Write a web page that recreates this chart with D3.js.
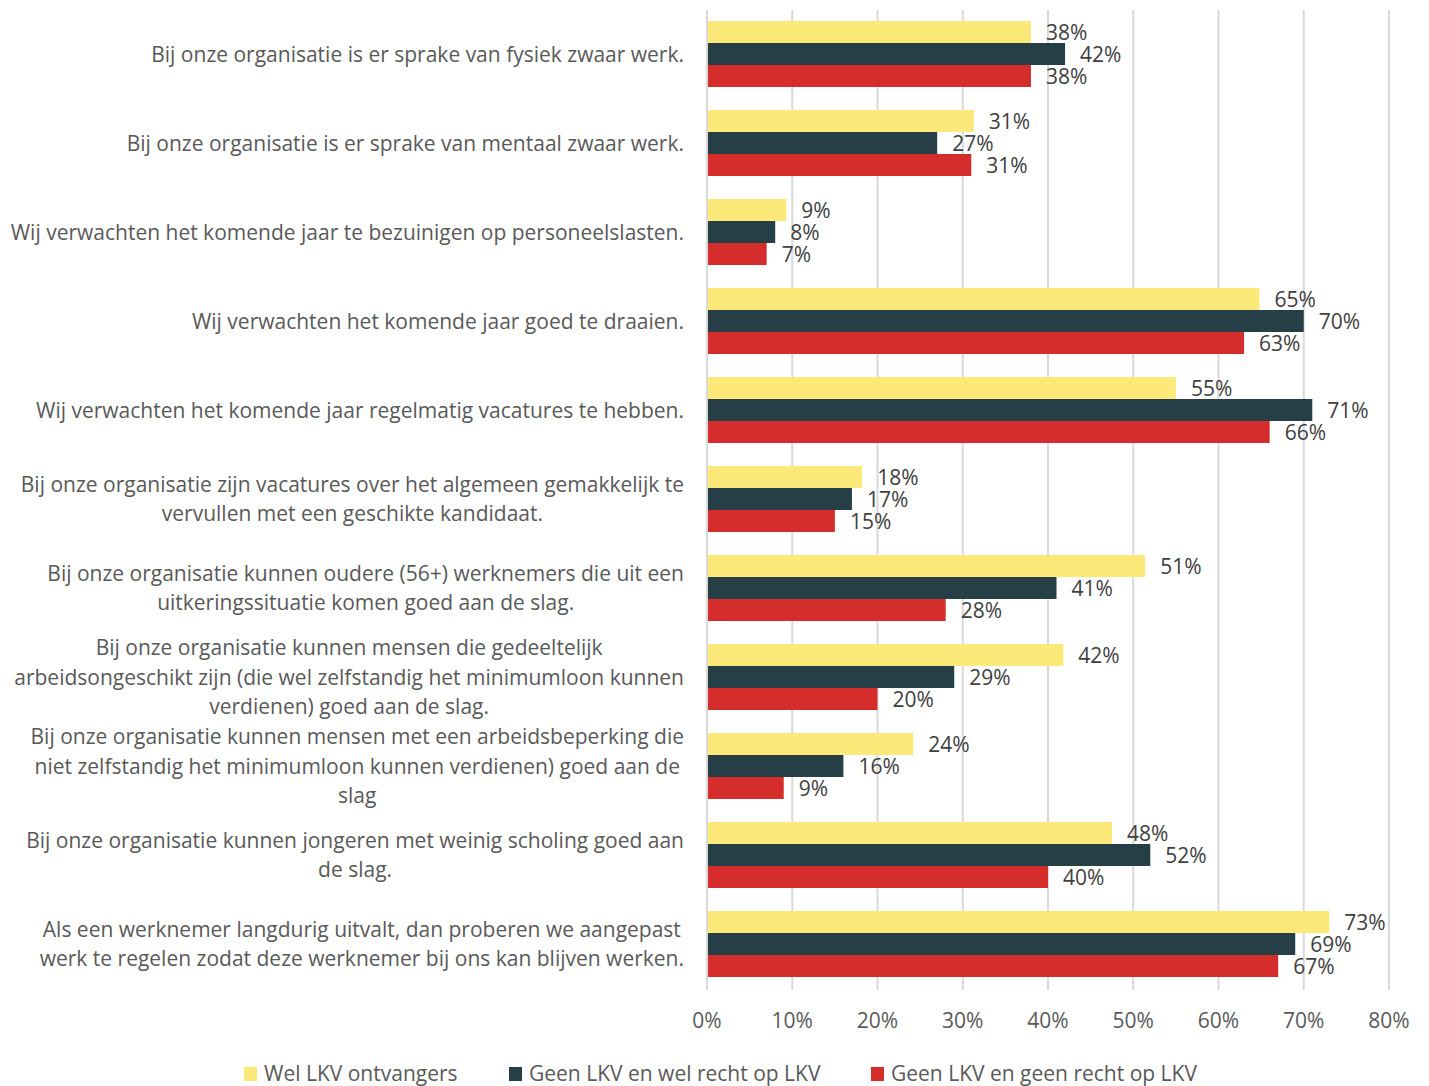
<!DOCTYPE html>
<html>
<head>
  <meta charset="utf-8">
  <title>LKV chart</title>
  <script src="https://d3js.org/d3.v7.min.js"></script>
  <style>
    body { margin: 0; background: #fff; }
    text { font-family: "Open Sans", sans-serif; }
  </style>
</head>
<body>
  <svg width="1429" height="1086"></svg>
  <script>
  // categories (line breaks as in the original)
  var categories = [
    "Bij onze organisatie is er sprake van fysiek zwaar werk.",
    "Bij onze organisatie is er sprake van mentaal zwaar werk.",
    "Wij verwachten het komende jaar te bezuinigen op personeelslasten.",
    "Wij verwachten het komende jaar goed te draaien.",
    "Wij verwachten het komende jaar regelmatig vacatures te hebben.",
    "Bij onze organisatie zijn vacatures over het algemeen gemakkelijk te\nvervullen met een geschikte kandidaat.",
    "Bij onze organisatie kunnen oudere (56+) werknemers die uit een\nuitkeringssituatie komen goed aan de slag.",
    "Bij onze organisatie kunnen mensen die gedeeltelijk\narbeidsongeschikt zijn (die wel zelfstandig het minimumloon kunnen\nverdienen) goed aan de slag.",
    "Bij onze organisatie kunnen mensen met een arbeidsbeperking die\nniet zelfstandig het minimumloon kunnen verdienen) goed aan de\nslag",
    "Bij onze organisatie kunnen jongeren met weinig scholing goed aan\nde slag.",
    "Als een werknemer langdurig uitvalt, dan proberen we aangepast\nwerk te regelen zodat deze werknemer bij ons kan blijven werken."
  ];

  var seriesNames = ["Wel LKV ontvangers", "Geen LKV en wel recht op LKV", "Geen LKV en geen recht op LKV"];
  // bar lengths (labels are rounded)
  var welLkv     = [38, 31.3, 9.3, 64.8, 55, 18.2, 51.4, 41.8, 24.2, 47.5, 73];
  var geenWel    = [42, 27, 8, 70, 71, 17, 41, 29, 16, 52, 69];
  var geenGeen   = [38, 31, 7, 63, 66, 15, 28, 20, 9, 40, 67];
  var colors = ["#fde97a", "#263f47", "#d42d2b"];
  var ticks = [0, 10, 20, 30, 40, 50, 60, 70, 80];

  var seriesValues = [welLkv, geenWel, geenGeen];

  var svg = d3.select("svg");
  var plotLeft = 707, plotRight = 1389, plotTop = 9.5, plotBottom = 988.5;
  var fs = 21;

  var x = d3.scaleLinear().domain([0, 80]).range([plotLeft, plotRight]);
  var y = d3.scaleBand().domain(d3.range(categories.length)).range([plotTop, plotBottom]).paddingInner(23 / 89).paddingOuter(11.5 / 89);
  var ySub = d3.scaleBand().domain(d3.range(seriesNames.length)).range([0, y.bandwidth()]);

  // gridlines
  svg.append("g").selectAll("line").data(ticks).enter().append("line")
    .attr("x1", function(d){ return x(d); })
    .attr("x2", function(d){ return x(d); })
    .attr("y1", 10).attr("y2", 990)
    .attr("stroke", "#d9d9d9").attr("stroke-width", 2);

  // x axis labels
  svg.append("g").selectAll("text").data(ticks).enter().append("text")
    .attr("x", function(d){ return x(d); })
    .attr("y", 1028)
    .attr("text-anchor", "middle")
    .attr("font-size", fs)
    .attr("fill", "#595959")
    .text(function(d){ return d + "%"; });

  // bars + value labels
  var groups = svg.append("g").selectAll("g").data(categories).enter().append("g")
    .attr("transform", function(d, i){ return "translate(0," + y(i) + ")"; });

  groups.each(function(c, i) {
    var g = d3.select(this);
    var rows = seriesValues.map(function(s, k){ return {k: k, v: s[i]}; });
    g.selectAll("rect").data(rows).enter().append("rect")
      .attr("x", x(0) + 1)
      .attr("y", function(d){ return ySub(d.k); })
      .attr("width", function(d){ return x(d.v) - x(0) - 1; })
      .attr("height", ySub.bandwidth())
      .attr("fill", function(d){ return colors[d.k]; });
    g.selectAll("text").data(rows).enter().append("text")
      .attr("x", function(d){ return x(d.v) + 15; })
      .attr("y", function(d){ return ySub(d.k) + ySub.bandwidth() / 2 + 7.5; })
      .attr("font-size", fs)
      .attr("fill", "#404040")
      .text(function(d){ return Math.round(d.v) + "%"; });
  });

  // category labels, centered block with right edge at 684
  var labelRight = 684, lineH = 29.5;
  var labels = svg.append("g");
  categories.forEach(function(c, i) {
    var lines = c.split("\n");
    var t = labels.append("text")
      .attr("font-size", fs)
      .attr("fill", "#595959")
      .attr("text-anchor", "middle");
    var cy = y(i) + y.bandwidth() / 2;
    lines.forEach(function(l, j) {
      t.append("tspan")
        .attr("y", cy + (j - (lines.length - 1) / 2) * lineH + 7.5)
        .text(l);
    });
    var w = d3.max(t.selectAll("tspan").nodes(), function(n){ return n.getComputedTextLength(); });
    t.selectAll("tspan").attr("x", labelRight - w / 2);
  });

  // legend
  var legendX = [244, 509, 871];
  var legend = svg.append("g").selectAll("g").data(seriesNames).enter().append("g")
    .attr("transform", function(d, i){ return "translate(" + legendX[i] + ",1067)"; });
  legend.append("rect").attr("width", 13).attr("height", 14)
    .attr("fill", function(d, i){ return colors[i]; });
  legend.append("text").attr("x", 20).attr("y", 14)
    .attr("font-size", fs).attr("fill", "#595959")
    .text(function(d){ return d; });
  </script>
</body>
</html>
